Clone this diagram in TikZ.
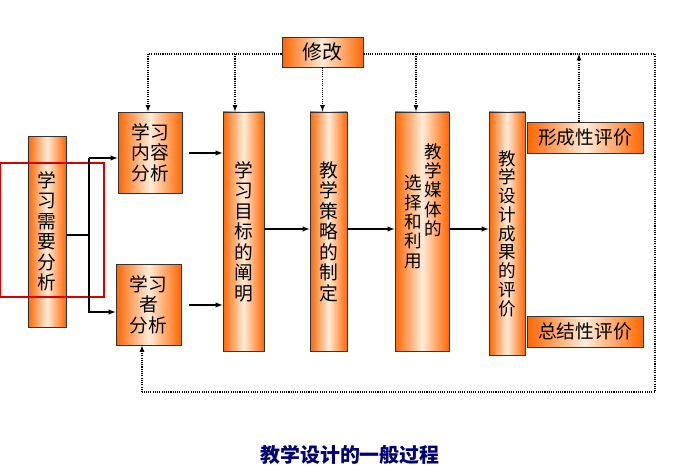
\documentclass[tikz,border=0pt]{standalone}
\usepackage{fontspec}
\setmainfont{Noto Sans CJK SC}
\usetikzlibrary{calc,positioning}
\tikzset{
	stepbox/.style={draw=black!80, line width=0.8pt, inner sep=0pt, align=center,
		left color=orange!80!red, right color=orange!80!red, middle color=orange!15,
		font=\fontsize{16}{17.5}\selectfont},
	fb/.style={densely dotted, line width=0.9pt, -latex},
	fl/.style={densely dotted, line width=0.9pt},
	flow/.style={line width=1pt, -latex}
}
\begin{document}
\begin{tikzpicture}[x=0.03cm, y=-0.03cm]
	\useasboundingbox (0,0) rectangle (700,470);

	% boxes
	\node [stepbox, minimum width=1.14cm, minimum height=5.73cm] (need) at (47,231.5) {学\\习\\需\\要\\分\\析};
	\node [stepbox, minimum width=1.92cm, minimum height=2.43cm] (cont) at (150,152.5) {学习\\内容\\分析};
	\node [stepbox, minimum width=1.95cm, minimum height=2.43cm] (lrn) at (148.5,304.5) {学习\\者\\分析};
	\node [stepbox, minimum width=1.23cm, minimum height=7.17cm] (goal) at (243.5,231.5) {学\\习\\目\\标\\的\\阐\\明};
	\node [stepbox, minimum width=1.11cm, minimum height=7.17cm] (strat) at (328.5,231.5) {教\\学\\策\\略\\的\\制\\定};
	\node [stepbox, minimum width=1.62cm, minimum height=7.17cm] (media) at (422,231.5) {};
	\node [font=\fontsize{15}{16.5}\selectfont, align=center] (mtxt) at (433,190) {教\\学\\媒\\体\\的};
	\node [font=\fontsize{15}{16.5}\selectfont, align=center] (mtxt2) at (413,222) {选\\择\\和\\利\\用};
	\node [stepbox, minimum width=1.08cm, minimum height=7.29cm, font=\fontsize{15}{16}\selectfont] (eval) at (507,233.5) {教\\学\\设\\计\\成\\果\\的\\评\\价};
	\node [stepbox, minimum width=3.48cm, minimum height=0.93cm] (form) at (585,137.5) {形成性评价};
	\node [stepbox, minimum width=3.48cm, minimum height=0.93cm] (summ) at (585,331.5) {总结性评价};
	\node [stepbox, minimum width=2.43cm, minimum height=0.9cm, font=\fontsize{17}{19}\selectfont] (rev) at (322.5,52) {修改};

	% red frame
	\draw [red!85!black, line width=2.5pt] (0,163) rectangle (104,297);

	% solid flow
	\coordinate (fork) at (89,235);
	\draw [line width=1pt] (need.east |- fork) -- (fork);
	\draw [flow] (89,158) -- (89,312) -- (lrn.west |- 0,312);
	\draw [flow] (89,158) -- (cont.west |- 0,158);
	\draw [flow] (189,153) -- (goal.west |- 0,153);
	\draw [flow] (189,305) -- (goal.west |- 0,305);
	\draw [flow] (goal.east |- 0,229) -- (strat.west |- 0,229);
	\draw [flow] (strat.east |- 0,229) -- (media.west |- 0,229);
	\draw [flow] (media.east |- 0,229) -- (eval.west |- 0,229);

	% dotted feedback
	\draw [fl] (rev.west |- 0,54) -- (148,54);
	\draw [fb] (148,54) -- (cont.north -| 148,0);
	\draw [fb] (235,54) -- (goal.north -| 235,0);
	\draw [fb] (rev.south) -- (strat.north -| rev.south);
	\draw [fl] (rev.east |- 0,54) -- (655,54) -- (655,392) -- (142,392);
	\draw [fb] (142,392) -- (lrn.south -| 142,0);
	\draw [fb] (416,54) -- (media.north -| 416,0);
	\draw [fb] (form.north -| 579,0) -- (579,54);

	% caption
	\node [font=\bfseries\fontsize{17}{20}\selectfont, text=blue!45!black] (title) at (350,455) {教学设计的一般过程};
\end{tikzpicture}
\end{document}
